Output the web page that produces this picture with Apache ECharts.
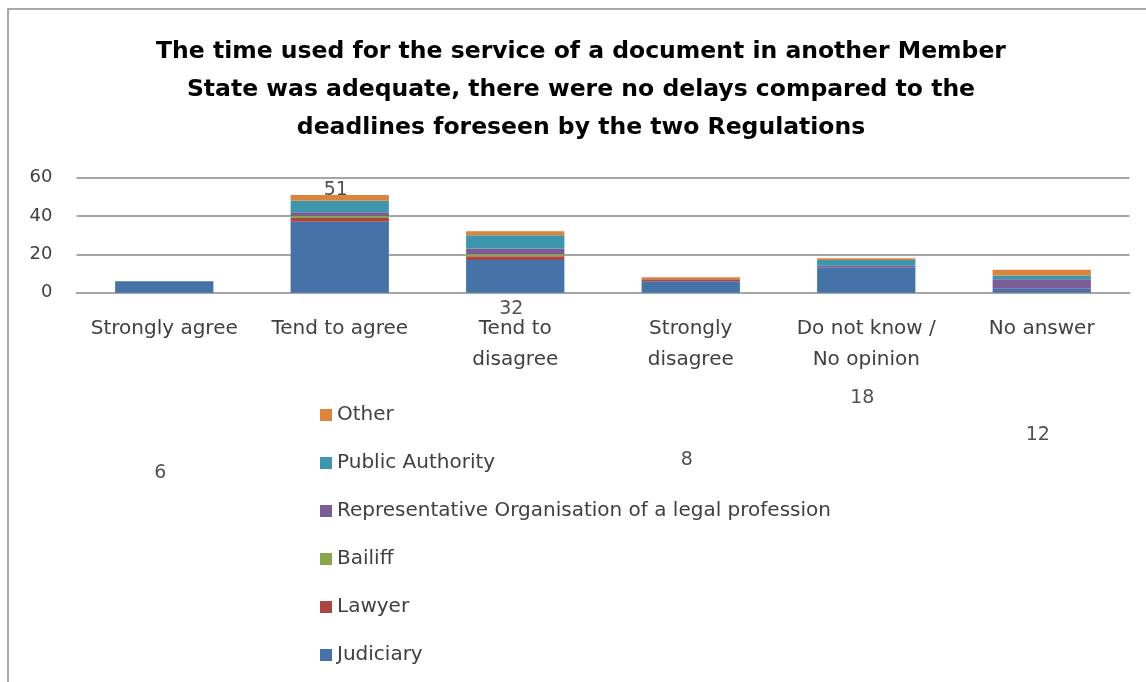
<!DOCTYPE html>
<html>
<head>
<meta charset="utf-8">
<script src="https://cdn.jsdelivr.net/npm/echarts@6/dist/echarts.min.js"></script>
<style>
  html, body { margin: 0; padding: 0; background: #fff; }
  #chart { width: 1146px; height: 682px; }
</style>
</head>
<body>
<div id="chart"></div>
<script>
// 类别与各系列数值
let categories = ['Strongly agree', 'Tend to agree', 'Tend to\ndisagree', 'Strongly\ndisagree', 'Do not know /\nNo opinion', 'No answer'];
let judiciary = [6, 37, 17, 6, 13, 2];
let lawyer = [0, 2, 2, 1, 0, 0];
let bailiff = [0, 1, 1, 0, 0, 0];
let representative = [0, 2, 3, 0, 1, 5];
let publicAuthority = [0, 6, 7, 0, 3, 2];
let other = [0, 3, 2, 1, 1, 3];
let yTicks = [0, 20, 40, 60];

let seriesNames = ['Judiciary', 'Lawyer', 'Bailiff', 'Representative Organisation of a legal profession', 'Public Authority', 'Other'];
let seriesData = [judiciary, lawyer, bailiff, representative, publicAuthority, other];
let colors = ['#4572A7', '#AA4643', '#89A54E', '#7A5C96', '#3D96AE', '#DB843D'];

let totals = categories.map(function (c, i) {
    return seriesData.reduce(function (s, arr) { return s + arr[i]; }, 0);
});

let font = '"DejaVu Sans", "Open Sans", sans-serif';
let chart = echarts.init(document.getElementById('chart'));

let barSeries = seriesNames.map(function (name, k) {
    return {
        name: name,
        type: 'bar',
        stack: 'total',
        xAxisIndex: 0,
        yAxisIndex: 0,
        barCategoryGap: '44%',
        data: seriesData[k],
        itemStyle: { color: colors[k] },
        emphasis: { disabled: true }
    };
});

let option = {
    backgroundColor: '#fff',
    animation: false,
    color: colors,
    title: {
        text: 'The time used for the service of a document in another Member\nState was adequate, there were no delays compared to the\ndeadlines foreseen by the two Regulations',
        left: 576,
        top: 28,
        textAlign: 'center',
        textStyle: {
            fontFamily: font,
            fontWeight: 'bold',
            fontSize: 23.5,
            lineHeight: 38,
            color: '#000'
        }
    },
    graphic: [{
        type: 'rect',
        shape: { x: 8, y: 9, width: 1400, height: 900 },
        style: { fill: 'none', stroke: '#8c8c8c', lineWidth: 1.5 },
        silent: true
    }],
    legend: {
        orient: 'vertical',
        left: 315,
        top: 400,
        height: 300,
        itemWidth: 12,
        itemHeight: 12,
        itemGap: 28,
        icon: 'rect',
        data: seriesNames.slice().reverse(),
        textStyle: {
            fontFamily: font,
            fontSize: 20,
            color: '#404040'
        }
    },
    grid: [{
        left: 76.5,
        right: 16.5,
        top: 177.7,
        bottom: 389.3,
        containLabel: false
    }, {
        left: 76.5,
        right: 16.5,
        top: 133.4,
        bottom: 171.2,
        containLabel: false
    }],
    xAxis: [{
        type: 'category',
        gridIndex: 0,
        data: categories,
        axisTick: { show: false },
        axisLine: { lineStyle: { color: '#a6a6a6', width: 2 } },
        axisLabel: {
            interval: 0,
            margin: 21,
            fontFamily: font,
            fontSize: 20,
            lineHeight: 31,
            color: '#404040'
        }
    }, {
        type: 'category',
        gridIndex: 1,
        data: categories,
        show: false
    }],
    yAxis: [{
        type: 'value',
        gridIndex: 0,
        min: yTicks[0],
        max: yTicks[yTicks.length - 1],
        interval: yTicks[1] - yTicks[0],
        axisLine: { show: false },
        axisTick: { show: false },
        splitLine: { lineStyle: { color: '#a6a6a6', width: 2 } },
        axisLabel: {
            margin: 24,
            fontFamily: font,
            fontSize: 18,
            color: '#404040'
        }
    }, {
        type: 'value',
        gridIndex: 1,
        min: 0,
        max: 60,
        show: false
    }],
    series: barSeries.concat([{
        // 总数标签
        name: 'Total',
        type: 'scatter',
        xAxisIndex: 1,
        yAxisIndex: 1,
        symbolSize: 1,
        itemStyle: { color: 'rgba(0,0,0,0)' },
        clip: false,
        silent: true,
        data: totals,
        label: {
            show: true,
            position: 'inside',
            offset: [-4, 0],
            fontFamily: font,
            fontSize: 19,
            color: '#262626'
        }
    }])
};
chart.setOption(option);
</script>
</body>
</html>
